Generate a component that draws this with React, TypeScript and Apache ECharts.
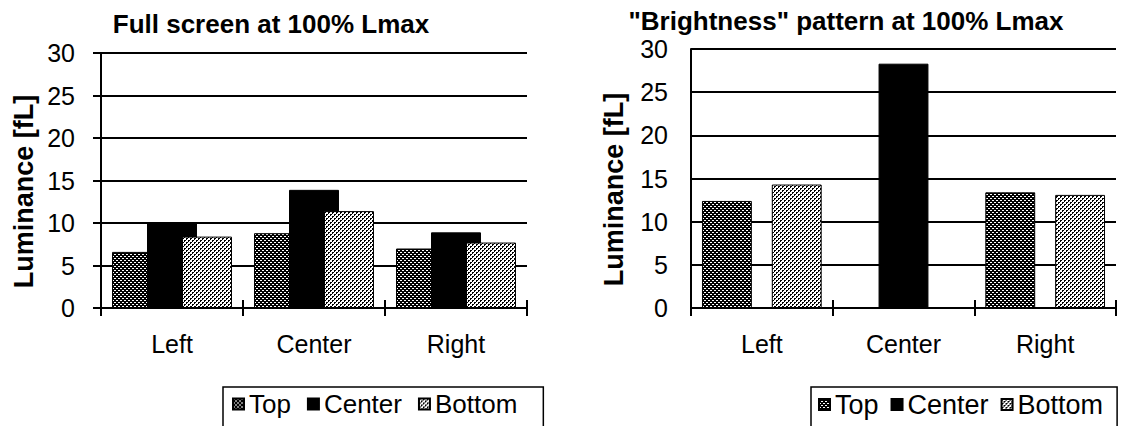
import React, { useEffect, useRef } from "react";
import * as echarts from "echarts";

const categories = ["Left", "Center", "Right"];
const seriesNames = ["Top", "Center", "Bottom"];
const fullTop = [6.6, 8.8, 7.0];
const fullCenter = [10.0, 13.9, 8.9];
const fullBottom = [8.4, 11.4, 7.7];
const brightTop = [12.4, null, 13.4];
const brightCenter = [null, 28.3, null];
const brightBottom = [14.3, null, 13.1];
const titleLeft = "Full screen at 100% Lmax";
const titleRight = "\"Brightness\" pattern at 100% Lmax";
const yName = "Luminance [fL]";

const FONT = "'Liberation Sans', Arial, Helvetica, sans-serif";

function makePattern(bg: string, fg: string, cells: number[][]) {
  const c = document.createElement("canvas");
  c.width = 4;
  c.height = 4;
  const ctx = c.getContext("2d")!;
  ctx.fillStyle = bg;
  ctx.fillRect(0, 0, 4, 4);
  ctx.fillStyle = fg;
  cells.forEach(([x, y]) => ctx.fillRect(x, y, 1, 1));
  return { image: c, repeat: "repeat", imageWidth: 4, imageHeight: 4 } as any;
}

export default function App() {
  const ref = useRef<HTMLDivElement>(null);
  useEffect(() => {
    if (!ref.current) return;
    const chart = echarts.init(ref.current, undefined, { renderer: "svg" });
    const darkPat = makePattern("#000", "#fff", [[0, 0], [1, 0], [2, 2], [3, 2]]);
    const lightPat = makePattern("#fff", "#000", [[0, 0], [1, 0], [2, 2], [3, 2], [0, 1], [2, 3]]);
    const colors = [darkPat, "#000", lightPat];

    const grids = [
      { left: 101, top: 53, width: 426, height: 255 },
      { left: 691, top: 49, width: 425, height: 259 },
    ];

    const mainX = (gi: number) => ({
      type: "category",
      gridIndex: gi,
      data: categories,
      position: "bottom",
      axisLine: { show: true, lineStyle: { color: "#000", width: 2 } },
      axisTick: { show: true, inside: false, length: 8, lineStyle: { color: "#000", width: 2 } },
      axisLabel: { color: "#000", fontSize: 25, fontFamily: FONT, margin: 23 },
      splitLine: { show: false },
    });
    const tickX = (gi: number, h: number) => ({
      type: "category",
      gridIndex: gi,
      data: categories,
      position: "top",
      offset: -h,
      axisLine: { show: false },
      axisTick: { show: true, inside: false, length: 8, lineStyle: { color: "#000", width: 2 } },
      axisLabel: { show: false },
      splitLine: { show: false },
    });
    const yAx = (gi: number, ticks: boolean, margin: number) => ({
      type: "value",
      gridIndex: gi,
      min: 0,
      max: 30,
      interval: 5,
      name: yName,
      nameLocation: "middle",
      nameRotate: 90,
      nameGap: 64,
      nameTextStyle: {
        fontSize: 27,
        fontWeight: "bold",
        color: "#000",
        fontFamily: FONT,
        padding: [0, 22, 0, 0],
      },
      axisLine: { show: true, lineStyle: { color: "#000", width: 2 } },
      axisTick: { show: ticks, length: 8, lineStyle: { color: "#000", width: 2 } },
      axisLabel: { color: "#000", fontSize: 25, fontFamily: FONT, margin },
      splitLine: { show: true, lineStyle: { color: "#000", width: 2 } },
    });

    const barCommon = {
      type: "bar",
      barGap: "-30%",
      barCategoryGap: "15.5%",
      itemStyle: { borderColor: "#000", borderWidth: 1 },
    };

    const leftData = [fullTop, fullCenter, fullBottom];
    const rightData = [brightTop, brightCenter, brightBottom];

    const series: any[] = [];
    leftData.forEach((d, i) =>
      series.push({
        ...barCommon,
        name: seriesNames[i],
        xAxisIndex: 0,
        yAxisIndex: 0,
        data: d,
        itemStyle: { ...barCommon.itemStyle, color: colors[i] },
      })
    );
    rightData.forEach((d, i) =>
      series.push({
        ...barCommon,
        name: seriesNames[i],
        xAxisIndex: 2,
        yAxisIndex: 1,
        data: d,
        itemStyle: { ...barCommon.itemStyle, color: colors[i] },
      })
    );

    const legendBase = {
      orient: "horizontal",
      icon: "rect",
      itemWidth: 11,
      itemHeight: 11,
      itemGap: 16,
      borderColor: "#000",
      borderWidth: 1.5,
      data: seriesNames,
      selectedMode: false,
    };

    chart.setOption({
      animation: false,
      backgroundColor: "#fff",
      textStyle: { fontFamily: FONT },
      grid: grids,
      xAxis: [mainX(0), tickX(0, 255), mainX(1), tickX(1, 259)],
      yAxis: [yAx(0, true, 26), yAx(1, false, 23)],
      legend: [
        {
          ...legendBase,
          left: 223,
          top: 387,
          padding: [4, 26, 30, 9],
          textStyle: { fontSize: 26, color: "#000", fontFamily: FONT },
        },
        {
          ...legendBase,
          left: 811,
          top: 387,
          padding: [4, 14, 30, 7],
          itemGap: 12,
          textStyle: { fontSize: 27, color: "#000", fontFamily: FONT },
        },
      ],
      graphic: [
        {
          type: "text",
          x: 271,
          y: 24,
          style: {
            text: titleLeft,
            font: `bold 26px ${FONT}`,
            fill: "#000",
            align: "center",
            verticalAlign: "middle",
          },
        },
        {
          type: "text",
          x: 846,
          y: 21,
          style: {
            text: titleRight,
            font: `bold 26px ${FONT}`,
            fill: "#000",
            align: "center",
            verticalAlign: "middle",
          },
        },
      ],
      series,
    });
    return () => chart.dispose();
  }, []);
  return (
    <div
      ref={ref}
      style={{ position: "absolute", left: 0, top: 0, width: 1134, height: 426 }}
    />
  );
}
